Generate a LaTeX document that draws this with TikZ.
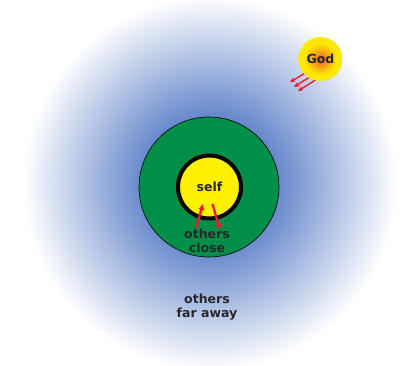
\documentclass[tikz,border=0pt]{standalone}
\usepackage{fontspec}
\setmainfont{DejaVu Sans}
\usetikzlibrary{arrows.meta}
\definecolor{blueC}{RGB}{92,128,200}
\definecolor{greenC}{RGB}{0,142,72}
\definecolor{yellowC}{RGB}{255,240,0}
\definecolor{sunR}{RGB}{236,90,45}
\definecolor{sunO}{RGB}{245,150,30}
\definecolor{sunY}{RGB}{255,232,0}
\definecolor{redC}{RGB}{230,30,45}
\definecolor{textC}{RGB}{40,40,40}
\pgfdeclareradialshading{bluefade}{\pgfpoint{0bp}{0bp}}{color(0bp)=(blueC); color(8bp)=(blueC); color(25bp)=(white); color(50bp)=(white)}
\pgfdeclareradialshading{sunfade}{\pgfpoint{0bp}{0bp}}{color(0bp)=(sunR); color(7bp)=(sunO); color(18bp)=(sunY); color(25bp)=(sunY); color(50bp)=(sunY)}
\tikzset{
  lbl/.style={text=textC, font=\bfseries\fontsize{12.5}{14.5}\selectfont, align=center, inner sep=0pt},
  redarrow/.style={draw=redC, line width=2.4pt, -{Triangle[length=6pt,width=5.5pt]}},
  godarrow/.style={draw=redC, line width=1.4pt, -{Triangle[length=4.5pt,width=4pt]}}
}
\begin{document}
\begin{tikzpicture}[x=1pt,y=-1pt]
\useasboundingbox (0,0) rectangle (405,366);
\node[circle, shading=bluefade, minimum size=374pt, inner sep=0pt] (far) at (210,183) {};
\node[circle, draw=black, line width=0.6pt, fill=greenC, minimum size=140pt, inner sep=0pt] (close) at (209,187) {};
\node[circle, draw=black, line width=4pt, fill=yellowC, minimum size=63pt, inner sep=0pt, lbl] (self) at (209.5,187) {self};
\node[lbl] (closelbl) at (207,241) {others\\close};
\node[lbl] (farlbl) at (207,307) {others\\far away};
\coordinate (u1) at (196,228);
\coordinate (u2) at (203,204);
\coordinate (d1) at (212.5,204);
\coordinate (d2) at (220,230);
\draw[redarrow] (u1) -- (u2);
\draw[redarrow] (d1) -- (d2);
\coordinate (g1s) at (309,71);
\coordinate (g1e) at (290,82);
\coordinate (g2s) at (313,75);
\coordinate (g2e) at (294,87);
\coordinate (g3s) at (317,79);
\coordinate (g3e) at (298,91);
\draw[godarrow] (g1s) -- (g1e);
\draw[godarrow] (g2s) -- (g2e);
\draw[godarrow] (g3s) -- (g3e);
\node[circle, shading=sunfade, minimum size=44pt, inner sep=0pt, lbl] (god) at (320.5,59) {God};
\end{tikzpicture}
\end{document}
